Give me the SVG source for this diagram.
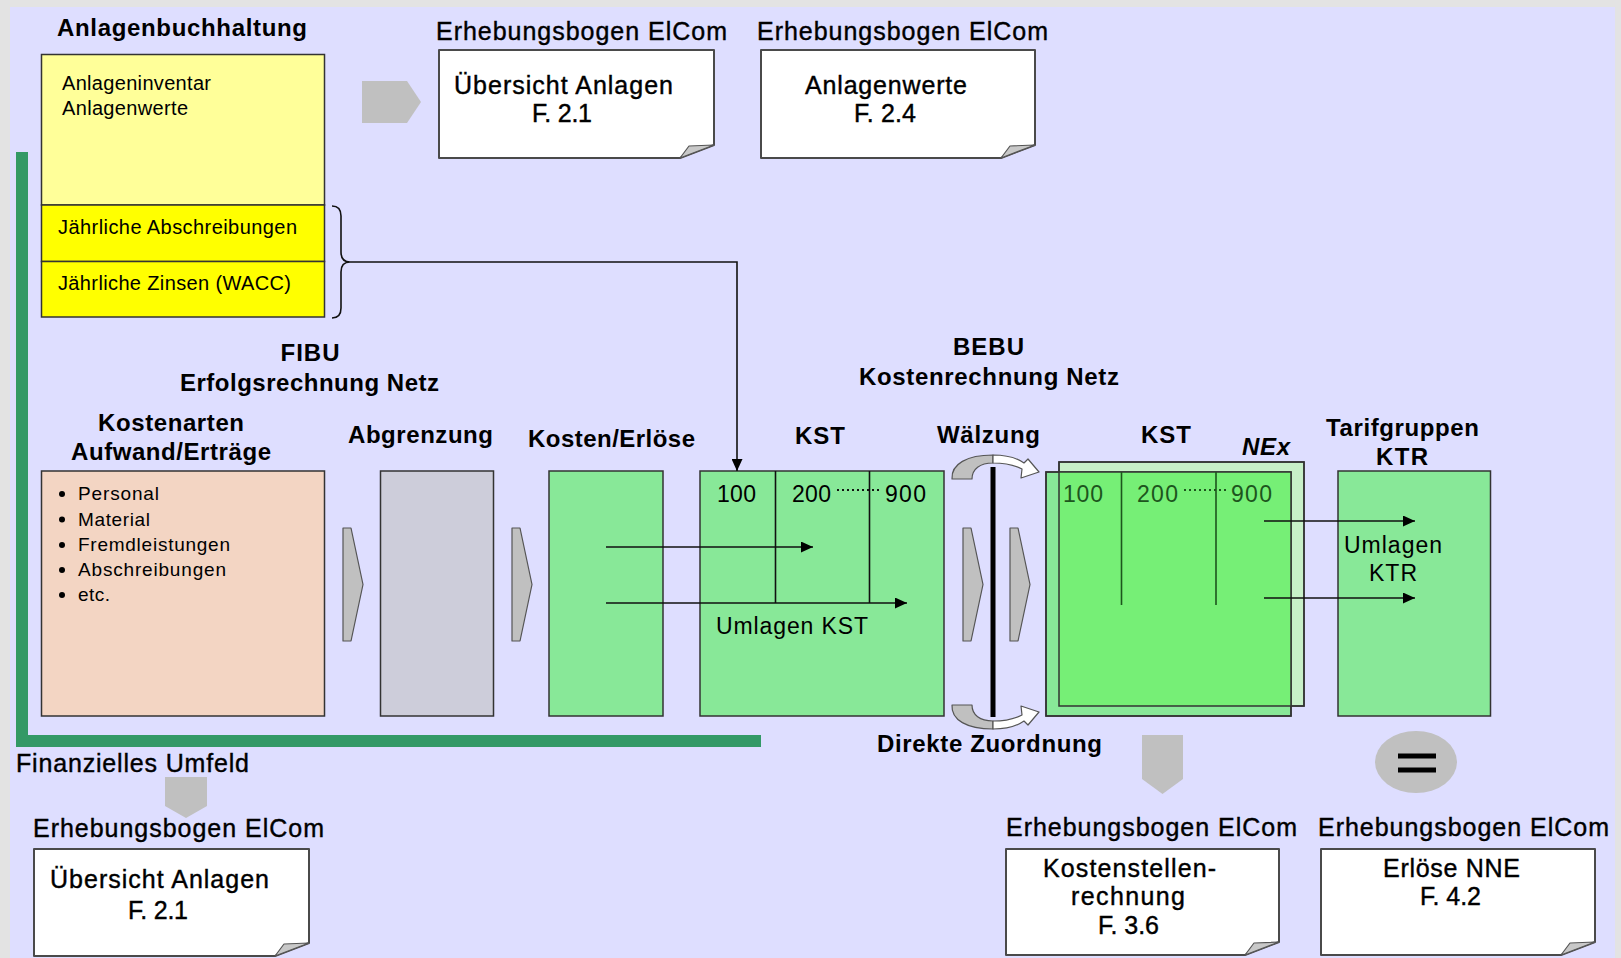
<svg xmlns="http://www.w3.org/2000/svg" width="1621" height="958" viewBox="0 0 1621 958">
<defs>
<style>
text{font-family:"Liberation Sans",Arial,sans-serif;fill:#000}
.h{font-weight:bold;font-size:24px}
.m{font-size:25px;stroke:#000;stroke-width:0.4px}
.s{font-size:20px}
.b{font-size:19px}
.n{font-size:23px}
.g{fill:#1d551d}
.box{stroke:#333;stroke-width:1.5}
.doc{fill:#fff;stroke:#4a4a4a;stroke-width:2;stroke-linejoin:round}
.fold{fill:#c8c8c8;stroke:#555;stroke-width:1.2;stroke-linejoin:round}
.chev{fill:#c0c0c0;stroke:#555;stroke-width:1.2;stroke-linejoin:round}
.ga{fill:#c0c0c0}
.ln{fill:none;stroke:#111;stroke-width:1.6}
.dv{fill:none;stroke:#111;stroke-width:1.6}
.dot{fill:none;stroke:#111;stroke-width:2;stroke-dasharray:2 3}
</style>
<marker id="ah" markerUnits="userSpaceOnUse" markerWidth="13" markerHeight="11" refX="12" refY="5.5" orient="auto">
<path d="M0,0 L12,5.5 L0,11 Z" fill="#000"/>
</marker>
</defs>
<rect x="0" y="0" width="1621" height="958" fill="#e3e3e3"/>
<rect x="10" y="7" width="1605" height="951" fill="#dedeff"/>
<path d="M22,152 V741 H761" fill="none" stroke="#339966" stroke-width="12"/>

<g id="anlagenbuchhaltung">
<text class="h" x="57" y="36" textLength="250" lengthAdjust="spacing">Anlagenbuchhaltung</text>
<rect class="box" x="41.5" y="54.5" width="283" height="150.5" fill="#ffff99"/>
<text class="s" x="62" y="90" textLength="149" lengthAdjust="spacing">Anlageninventar</text>
<text class="s" x="62" y="115" textLength="126" lengthAdjust="spacing">Anlagenwerte</text>
</g>
<g id="abschreibungen">
<rect class="box" x="41.5" y="205" width="283" height="56.5" fill="#ffff00"/>
<text class="s" x="58" y="234" textLength="239" lengthAdjust="spacing">Jährliche Abschreibungen</text>
</g>
<g id="zinsen">
<rect class="box" x="41.5" y="261.5" width="283" height="55.5" fill="#ffff00"/>
<text class="s" x="58" y="290" textLength="233" lengthAdjust="spacing">Jährliche Zinsen (WACC)</text>
</g>

<g id="arrow-top">
<path class="ga" d="M362,81 H407 L421,102 L407,123 H362 Z"/>
</g>

<g id="doc-uebersicht-top">
<text class="m" x="436" y="40" textLength="291" lengthAdjust="spacing">Erhebungsbogen ElCom</text>
<path class="doc" d="M439,50 H714 V145 L680,158 H439 Z"/>
<path class="fold" d="M680,158 L689,146 L714,145 Z"/>
<text class="m" x="454" y="94" textLength="219" lengthAdjust="spacing">Übersicht Anlagen</text>
<text class="m" x="532" y="122" textLength="60" lengthAdjust="spacing">F. 2.1</text>
</g>

<g id="doc-anlagenwerte">
<text class="m" x="757" y="40" textLength="291" lengthAdjust="spacing">Erhebungsbogen ElCom</text>
<path class="doc" d="M761,50 H1035 V145 L1001,158 H761 Z"/>
<path class="fold" d="M1001,158 L1010,146 L1035,145 Z"/>
<text class="m" x="805" y="94" textLength="162" lengthAdjust="spacing">Anlagenwerte</text>
<text class="m" x="854" y="122" textLength="62" lengthAdjust="spacing">F. 2.4</text>
</g>

<g id="fibu-title">
<text class="h" x="280.5" y="361" textLength="59" lengthAdjust="spacing">FIBU</text>
<text class="h" x="180" y="391" textLength="259" lengthAdjust="spacing">Erfolgsrechnung Netz</text>
</g>

<g id="kostenarten">
<text class="h" x="98" y="431" textLength="146" lengthAdjust="spacing">Kostenarten</text>
<text class="h" x="71" y="460" textLength="200" lengthAdjust="spacing">Aufwand/Erträge</text>
<rect class="box" x="41.5" y="471" width="283" height="245" fill="#f3d5c3"/>
<g fill="#000">
<circle cx="62" cy="494" r="3"/><circle cx="62" cy="519.5" r="3"/><circle cx="62" cy="545" r="3"/><circle cx="62" cy="570" r="3"/><circle cx="62" cy="595" r="3"/>
</g>
<text class="b" x="78" y="500" textLength="81" lengthAdjust="spacing">Personal</text>
<text class="b" x="78" y="526" textLength="72" lengthAdjust="spacing">Material</text>
<text class="b" x="78" y="551" textLength="152" lengthAdjust="spacing">Fremdleistungen</text>
<text class="b" x="78" y="576" textLength="148" lengthAdjust="spacing">Abschreibungen</text>
<text class="b" x="78" y="601" textLength="32" lengthAdjust="spacing">etc.</text>
</g>

<g id="chevron-1"><path class="chev" d="M343,528 H351 L363,584.5 L351,641 H343 Z"/></g>

<g id="abgrenzung">
<text class="h" x="348" y="443" textLength="145" lengthAdjust="spacing">Abgrenzung</text>
<rect class="box" x="380.5" y="471" width="113" height="245" fill="#cdcdda"/>
</g>

<g id="chevron-2"><path class="chev" d="M512,528 H520 L532,584.5 L520,641 H512 Z"/></g>

<g id="kosten-erloese">
<text class="h" x="528" y="447" textLength="167" lengthAdjust="spacing">Kosten/Erlöse</text>
<rect class="box" x="549" y="471" width="114" height="245" fill="#88e898"/>
</g>

<g id="kst-1">
<text class="h" x="795" y="444" textLength="50" lengthAdjust="spacing">KST</text>
<rect class="box" x="700" y="471" width="244" height="245" fill="#88e898"/>
<path class="dv" d="M775.5,471 V603 M869.5,471 V603"/>
<text class="n" x="717" y="502" textLength="39" lengthAdjust="spacing">100</text>
<text class="n" x="792" y="502" textLength="39" lengthAdjust="spacing">200</text>
<path class="dot" d="M837,490 H881"/>
<text class="n" x="885" y="502" textLength="41" lengthAdjust="spacing">900</text>
<text class="n" x="716" y="634" textLength="152" lengthAdjust="spacing">Umlagen KST</text>
</g>

<g id="bebu-title">
<text class="h" x="953" y="355" textLength="71" lengthAdjust="spacing">BEBU</text>
<text class="h" x="859" y="385" textLength="260" lengthAdjust="spacing">Kostenrechnung Netz</text>
</g>

<g id="waelzung">
<text class="h" x="937" y="443" textLength="103" lengthAdjust="spacing">Wälzung</text>
<g id="curl-top">
<path d="M952,479 C951,464 967,455 993,455 L993,463 C980,463 972,469 972,479 Z" fill="#c0c0c0" stroke="#555" stroke-width="1.2" stroke-linejoin="round"/>
<path d="M993,455 C1007,455 1017,458 1024,463 L1028,459 L1039,472 L1021,478 L1022,469 C1014,465 1003,463 993,463 Z" fill="#fff" stroke="#555" stroke-width="1.2" stroke-linejoin="round"/>
</g>
<g id="curl-bottom" transform="translate(0,1184) scale(1,-1)">
<path d="M952,479 C951,464 967,455 993,455 L993,463 C980,463 972,469 972,479 Z" fill="#c0c0c0" stroke="#555" stroke-width="1.2" stroke-linejoin="round"/>
<path d="M993,455 C1007,455 1017,458 1024,463 L1028,459 L1039,472 L1021,478 L1022,469 C1014,465 1003,463 993,463 Z" fill="#fff" stroke="#555" stroke-width="1.2" stroke-linejoin="round"/>
</g>
<rect x="990.5" y="467" width="5" height="250" fill="#000"/>
<path class="chev" d="M963,528 H971 L983,584.5 L971,641 H963 Z"/>
<path class="chev" d="M1010,528 H1018 L1030,584.5 L1018,641 H1010 Z"/>
<text class="h" x="877" y="752" textLength="225" lengthAdjust="spacing">Direkte Zuordnung</text>
</g>

<g id="kst-2">
<text class="h" x="1141" y="443" textLength="50" lengthAdjust="spacing">KST</text>
<text class="h" x="1242" y="455" textLength="48" lengthAdjust="spacing" font-style="italic">NEx</text>
<rect class="box" x="1059" y="462" width="245" height="244" fill="#c8f0c8"/>
<rect class="box" x="1046" y="472" width="245" height="244" fill="#88e898"/>
<rect x="1059" y="472" width="232" height="234" fill="#76ef76"/>
<rect x="1059" y="462" width="245" height="244" fill="none" stroke="#333" stroke-width="1.5"/>
<rect x="1046" y="472" width="245" height="244" fill="none" stroke="#333" stroke-width="1.5"/>
<path d="M1121.5,472 V605 M1216,472 V605" fill="none" stroke="#1d551d" stroke-width="1.6"/>
<text class="n g" x="1063" y="502" textLength="40" lengthAdjust="spacing">100</text>
<text class="n g" x="1137" y="502" textLength="41" lengthAdjust="spacing">200</text>
<path d="M1184,490 H1227" fill="none" stroke="#1d551d" stroke-width="2" stroke-dasharray="2 3"/>
<text class="n g" x="1231" y="502" textLength="41" lengthAdjust="spacing">900</text>
</g>

<g id="tarifgruppen">
<text class="h" x="1326" y="436" textLength="153" lengthAdjust="spacing">Tarifgruppen</text>
<text class="h" x="1376" y="465" textLength="52" lengthAdjust="spacing">KTR</text>
<rect class="box" x="1338" y="471" width="152.5" height="245" fill="#88e898"/>
<text class="n" x="1344" y="553" textLength="98" lengthAdjust="spacing">Umlagen</text>
<text class="n" x="1369" y="581" textLength="48" lengthAdjust="spacing">KTR</text>
</g>

<g id="finanzielles-umfeld">
<text class="m" x="16" y="772" textLength="233" lengthAdjust="spacing">Finanzielles Umfeld</text>
<path class="ga" d="M165,777 H207 V806 L186,818 L165,806 Z"/>
</g>

<g id="doc-uebersicht-bottom">
<text class="m" x="33" y="837" textLength="291" lengthAdjust="spacing">Erhebungsbogen ElCom</text>
<path class="doc" d="M34,849 H309 V943 L275,956 H34 Z"/>
<path class="fold" d="M275,956 L284,944 L309,943 Z"/>
<text class="m" x="50" y="888" textLength="219" lengthAdjust="spacing">Übersicht Anlagen</text>
<text class="m" x="128" y="919" textLength="60" lengthAdjust="spacing">F. 2.1</text>
</g>

<g id="arrow-kostenstellen">
<path class="ga" d="M1142,735 H1183 V779 L1162.5,794 L1142,779 Z"/>
</g>

<g id="doc-kostenstellen">
<text class="m" x="1006" y="836" textLength="291" lengthAdjust="spacing">Erhebungsbogen ElCom</text>
<path class="doc" d="M1006,849 H1279 V942 L1245,955 H1006 Z"/>
<path class="fold" d="M1245,955 L1254,943 L1279,942 Z"/>
<text class="m" x="1043" y="877" textLength="173" lengthAdjust="spacing">Kostenstellen-</text>
<text class="m" x="1071" y="905" textLength="114" lengthAdjust="spacing">rechnung</text>
<text class="m" x="1098" y="934" textLength="61" lengthAdjust="spacing">F. 3.6</text>
</g>

<g id="equal">
<ellipse cx="1416" cy="762" rx="41" ry="31" fill="#c0c0c0"/>
<rect x="1398" y="753.5" width="38" height="5" fill="#000"/>
<rect x="1398" y="767.5" width="38" height="5" fill="#000"/>
</g>

<g id="doc-erloese">
<text class="m" x="1318" y="836" textLength="291" lengthAdjust="spacing">Erhebungsbogen ElCom</text>
<path class="doc" d="M1321,849 H1595 V942 L1561,955 H1321 Z"/>
<path class="fold" d="M1561,955 L1570,943 L1595,942 Z"/>
<text class="m" x="1383" y="877" textLength="137" lengthAdjust="spacing">Erlöse NNE</text>
<text class="m" x="1420" y="905" textLength="61" lengthAdjust="spacing">F. 4.2</text>
</g>

<g id="connectors">
<path class="ln" d="M332,206 Q341,206 341,216 V252 Q341,262 350,262 Q341,262 341,272 V308 Q341,318 332,318"/>
<path class="ln" d="M350,262 H737 V471" marker-end="url(#ah)"/>
<path class="ln" d="M606,547 H813" marker-end="url(#ah)"/>
<path class="ln" d="M606,603 H907" marker-end="url(#ah)"/>
<path class="ln" d="M1264,521 H1415" marker-end="url(#ah)"/>
<path class="ln" d="M1264,598 H1415" marker-end="url(#ah)"/>
</g>
</svg>
